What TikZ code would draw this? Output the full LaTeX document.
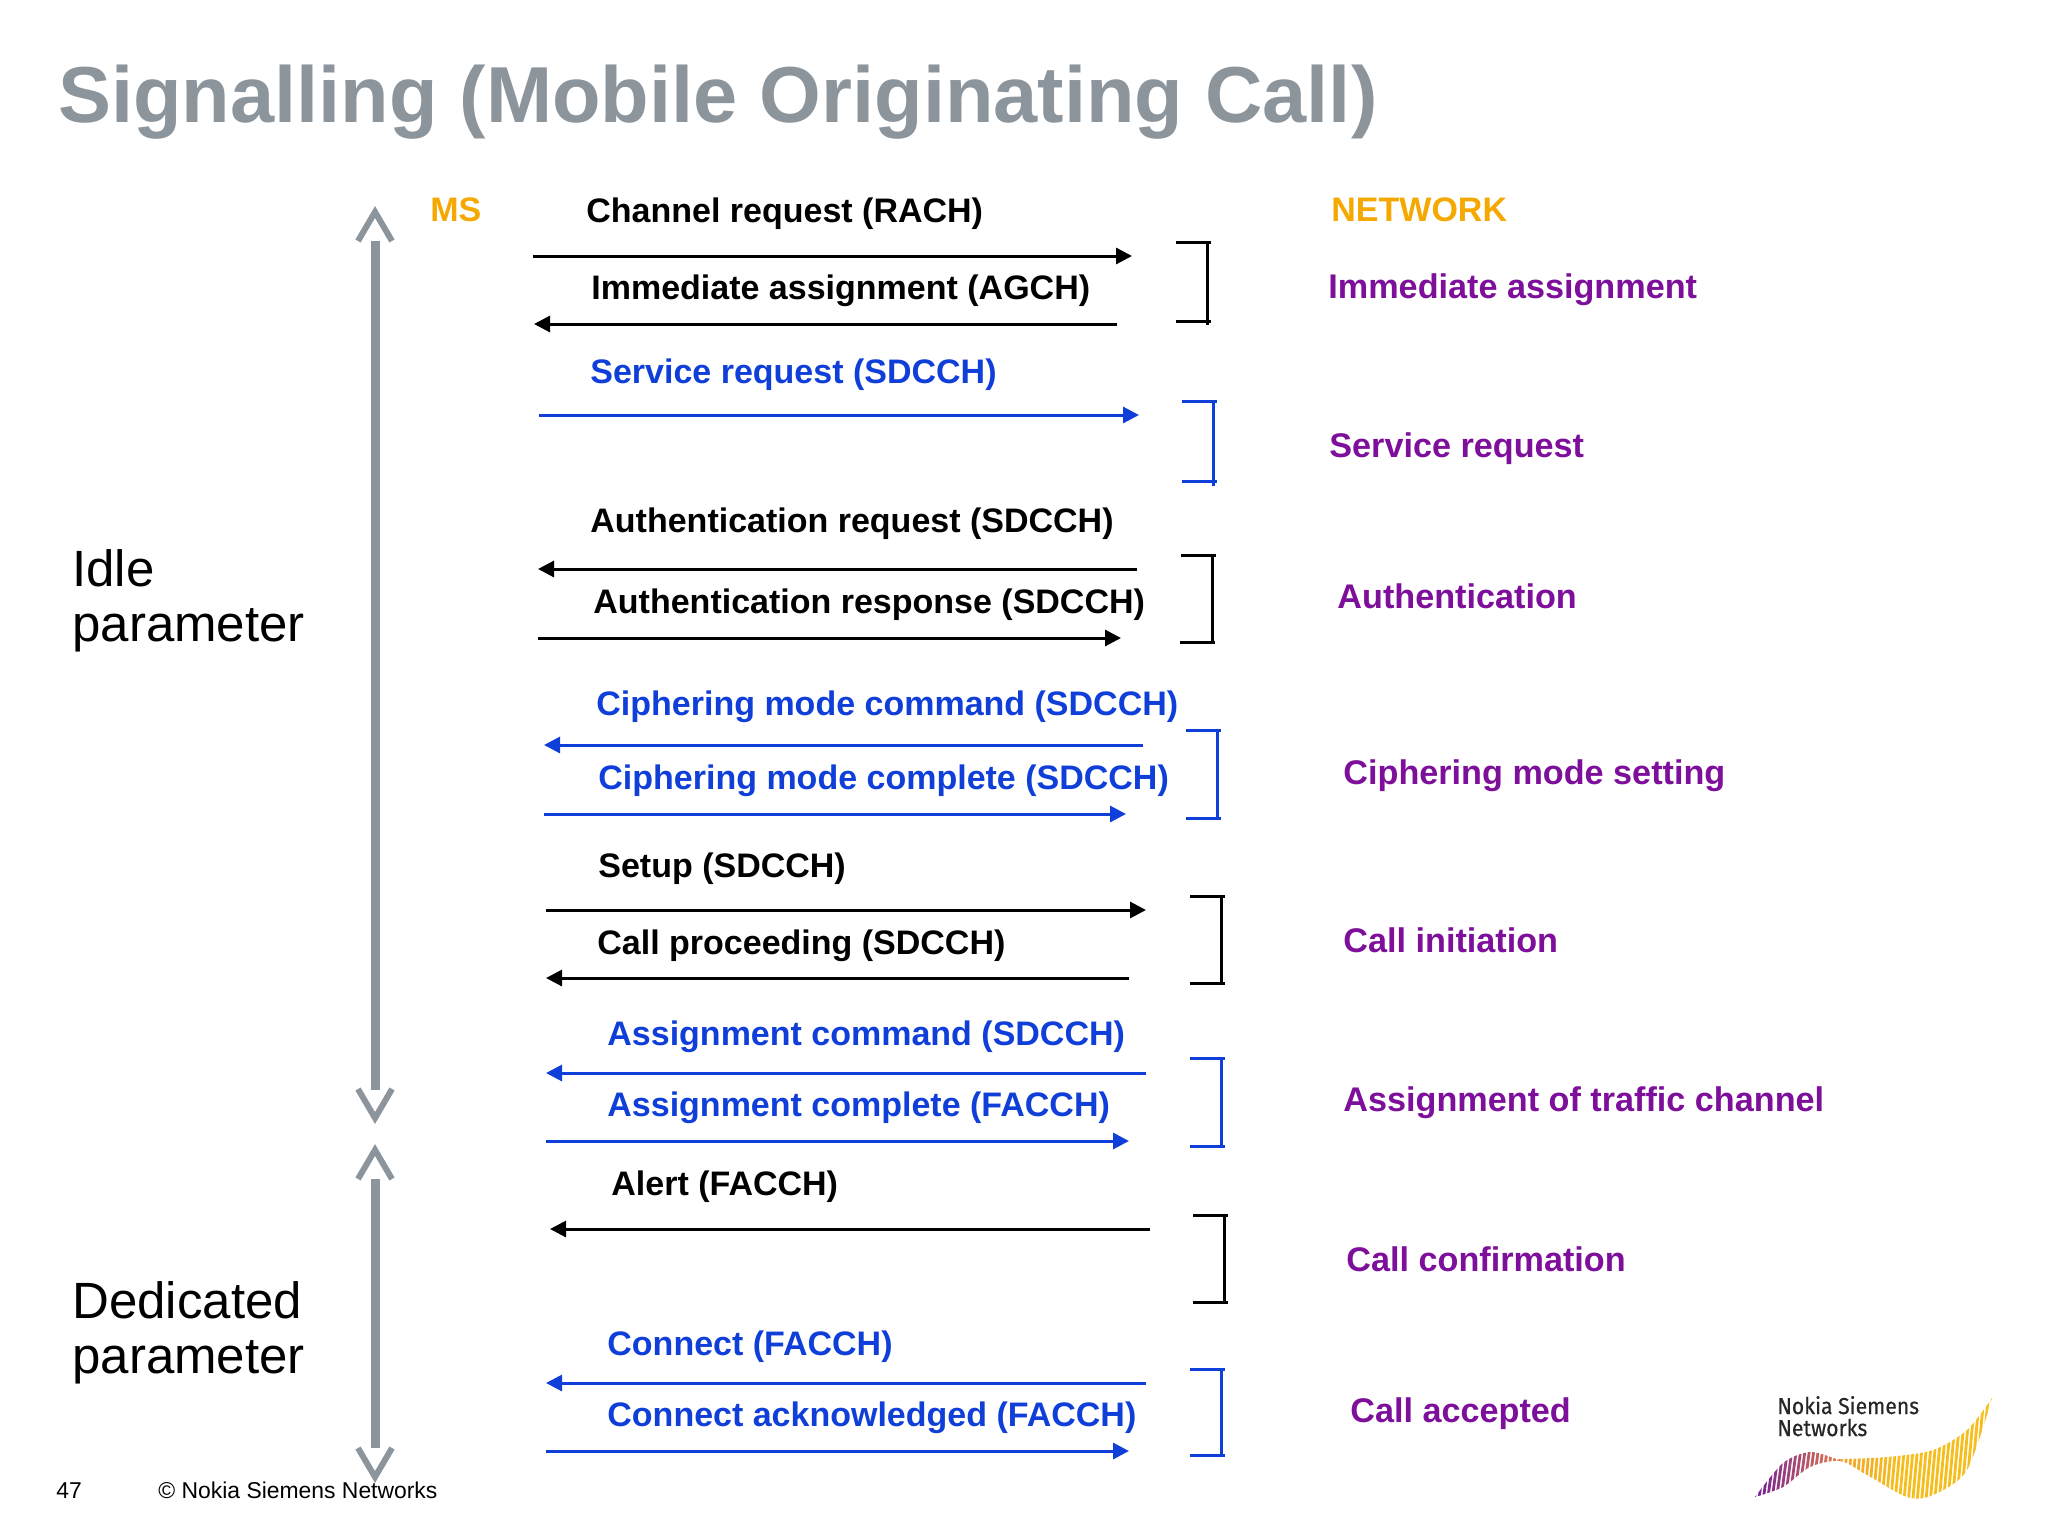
\documentclass[tikz,border=0pt]{standalone}
\usepackage{fontspec}
\setmainfont{Liberation Sans}
\newfontfamily\logofont[FakeStretch=0.92,FakeBold=0.4]{Fira Sans}
\usetikzlibrary{arrows.meta}
\definecolor{slidegray}{HTML}{8C949C}
\definecolor{msgblue}{HTML}{0F3FD8}
\definecolor{procpurple}{HTML}{7D0F9B}
\definecolor{headorange}{HTML}{F5A800}
\definecolor{wavepurple}{HTML}{6A1B9A}
\definecolor{waveorange}{HTML}{E8804A}
\definecolor{waveyellow}{HTML}{F6BE1C}
\begin{document}
\begin{tikzpicture}[x=0.5pt,y=-0.5pt,
        base/.style={inner sep=0pt,anchor=base west},
        msgtext/.style={base,font=\bfseries\fontsize{17}{20}\selectfont},
        proctext/.style={base,text=procpurple,font=\bfseries\fontsize{17.1}{20}\selectfont},
        sidetext/.style={base,align=left,font=\fontsize{25.5}{27.5}\selectfont},
        foot/.style={base,font=\fontsize{11.45}{14}\selectfont},
        logotext/.style={base,text=black!85,font=\logofont\fontsize{11.5}{12}\selectfont},
        msg/.style={line width=1.5pt,-{Triangle[length=8pt,width=8pt]}},
        brk/.style={line width=1.5pt},
        shaft/.style={draw=slidegray,line width=4.5pt},
        chev/.style={draw=slidegray,line width=3pt,miter limit=10}]
    \useasboundingbox (0,0) rectangle (2048,1536);

    % Title
    \node[base,text=slidegray,font=\bfseries\fontsize{39.7}{46}\selectfont] (title) at (58,122) {Signalling (Mobile Originating Call)};

    % Grey arrows on the left
    \coordinate (up1) at (375,241);
    \coordinate (dn1) at (375,1090);
    \coordinate (up2) at (375,1179);
    \coordinate (dn2) at (375,1448);
    \draw[shaft] (up1) -- (dn1);
    \draw[shaft] (up2) -- (dn2);
    \draw[chev] (up1) ++(-17,0) -- ++(17,-29) -- ++(17,29);
    \draw[chev] (dn1) ++(-17,-1) -- ++(17,29) -- ++(17,-29);
    \draw[chev] (up2) ++(-17,0) -- ++(17,-29) -- ++(17,29);
    \draw[chev] (dn2) ++(-17,0) -- ++(17,29) -- ++(17,-29);

    \node[sidetext] (idle) at (72,641) {Idle\\parameter};
    \node[sidetext] (dedicated) at (72,1373) {Dedicated\\parameter};

    \node[msgtext,text=headorange] (ms) at (430,221) {MS};
    \node[msgtext,text=headorange] (network) at (1331,221) {NETWORK};

    % Messages
    \node[msgtext] (rach) at (586,222) {Channel request (RACH)};
    \node[msgtext] (agch) at (591,299) {Immediate assignment (AGCH)};
    \node[msgtext,text=msgblue] (servreq) at (590,383) {Service request (SDCCH)};
    \node[msgtext] (authreq) at (590,532) {Authentication request (SDCCH)};
    \node[msgtext] (authresp) at (593,613) {Authentication response (SDCCH)};
    \node[msgtext,text=msgblue] (ciphcmd) at (596,715) {Ciphering mode command (SDCCH)};
    \node[msgtext,text=msgblue] (ciphcpl) at (598,789) {Ciphering mode complete (SDCCH)};
    \node[msgtext] (setup) at (598,877) {Setup (SDCCH)};
    \node[msgtext] (callproc) at (597,954) {Call proceeding (SDCCH)};
    \node[msgtext,text=msgblue] (asgcmd) at (607,1045) {Assignment command (SDCCH)};
    \node[msgtext,text=msgblue] (asgcpl) at (607,1116) {Assignment complete (FACCH)};
    \node[msgtext] (alert) at (611,1195) {Alert (FACCH)};
    \node[msgtext,text=msgblue] (conn) at (607,1355) {Connect (FACCH)};
    \node[msgtext,text=msgblue] (connack) at (607,1426) {Connect acknowledged (FACCH)};

    % Arrows, a = tail and b = head
    \coordinate (a1) at (533,256);   \coordinate (b1) at (1132,256);  \draw[msg] (a1) -- (b1);
    \coordinate (a2) at (1117,324);  \coordinate (b2) at (534,324);   \draw[msg] (a2) -- (b2);
    \coordinate (a3) at (539,415);   \coordinate (b3) at (1139,415);  \draw[msg,msgblue] (a3) -- (b3);
    \coordinate (a4) at (1137,569);  \coordinate (b4) at (538,569);   \draw[msg] (a4) -- (b4);
    \coordinate (a5) at (538,638);   \coordinate (b5) at (1121,638);  \draw[msg] (a5) -- (b5);
    \coordinate (a6) at (1143,745);  \coordinate (b6) at (544,745);   \draw[msg,msgblue] (a6) -- (b6);
    \coordinate (a7) at (544,814);   \coordinate (b7) at (1126,814);  \draw[msg,msgblue] (a7) -- (b7);
    \coordinate (a8) at (546,910);   \coordinate (b8) at (1146,910);  \draw[msg] (a8) -- (b8);
    \coordinate (a9) at (1129,978);  \coordinate (b9) at (546,978);   \draw[msg] (a9) -- (b9);
    \coordinate (a10) at (1146,1073); \coordinate (b10) at (546,1073); \draw[msg,msgblue] (a10) -- (b10);
    \coordinate (a11) at (546,1141);  \coordinate (b11) at (1129,1141); \draw[msg,msgblue] (a11) -- (b11);
    \coordinate (a12) at (1150,1229); \coordinate (b12) at (550,1229); \draw[msg] (a12) -- (b12);
    \coordinate (a13) at (1146,1383); \coordinate (b13) at (546,1383); \draw[msg,msgblue] (a13) -- (b13);
    \coordinate (a14) at (546,1451);  \coordinate (b14) at (1129,1451); \draw[msg,msgblue] (a14) -- (b14);

    % Brackets
    \draw[brk] (1207,242) ++(-31,0) -- ++(35,0) (1207,242) -- (1207,325) (1207,321) ++(-31,0) -- ++(35,0);
    \draw[brk,msgblue] (1213,401) ++(-31,0) -- ++(35,0) (1213,401) -- (1213,486) (1213,481) ++(-31,0) -- ++(35,0);
    \draw[brk] (1212,555) ++(-31,0) -- ++(35,0) (1212,555) -- (1212,642) (1212,642) ++(-32,0) -- ++(35,0);
    \draw[brk,msgblue] (1217,730) ++(-31,0) -- ++(35,0) (1217,730) -- (1217,818) (1217,818) ++(-31,0) -- ++(35,0);
    \draw[brk] (1221,896) ++(-31,0) -- ++(35,0) (1221,896) -- (1221,983) (1221,983) ++(-31,0) -- ++(35,0);
    \draw[brk,msgblue] (1221,1058) ++(-31,0) -- ++(35,0) (1221,1058) -- (1221,1146) (1221,1146) ++(-31,0) -- ++(35,0);
    \draw[brk] (1224,1215) ++(-31,0) -- ++(35,0) (1224,1215) -- (1224,1302) (1224,1302) ++(-31,0) -- ++(35,0);
    \draw[brk,msgblue] (1221,1369) ++(-31,0) -- ++(35,0) (1221,1369) -- (1221,1455) (1221,1455) ++(-31,0) -- ++(35,0);

    % Procedure names
    \node[proctext] (p1) at (1328,298) {Immediate assignment};
    \node[proctext] (p2) at (1329,457) {Service request};
    \node[proctext] (p3) at (1337,608) {Authentication};
    \node[proctext] (p4) at (1343,784) {Ciphering mode setting};
    \node[proctext] (p5) at (1343,952) {Call initiation};
    \node[proctext] (p6) at (1343,1111) {Assignment of traffic channel};
    \node[proctext] (p7) at (1346,1271) {Call confirmation};
    \node[proctext] (p8) at (1350,1422) {Call accepted};

    % Footer
    \node[foot] (page) at (56,1498) {47};
    \node[foot] (copy) at (158,1498) {© Nokia Siemens Networks};

    % Logo
    \node[logotext] (logo1) at (1777,1414) {Nokia Siemens};
    \node[logotext] (logo2) at (1777,1436) {Networks};
    \begin{scope}
        \clip plot[smooth] coordinates {(1755,1497) (1783,1463) (1810,1452) (1837,1459) (1842,1459) (1887,1457) (1933,1450) (1967,1430) (1992,1398)}
            -- plot[smooth] coordinates {(1992,1398) (1967,1470) (1933,1495) (1907,1497) (1867,1475) (1840,1461) (1810,1467) (1783,1487) (1755,1497)} -- cycle;
        \foreach \i in {0,...,19} {
            \pgfmathsetmacro{\pct}{100-5*\i}
            \draw[wavepurple!\pct!waveorange,line width=1.4pt] (1750+4.4*\i,1500) -- ++(8,-60);
        }
        \foreach \i in {20,...,57} {
            \pgfmathsetmacro{\pct}{min(100,60+3*(\i-20))}
            \draw[waveyellow!\pct!waveorange,line width=1.4pt] (1750+4.4*\i,1500) -- ++(10,-110);
        }
    \end{scope}
\end{tikzpicture}
\end{document}
